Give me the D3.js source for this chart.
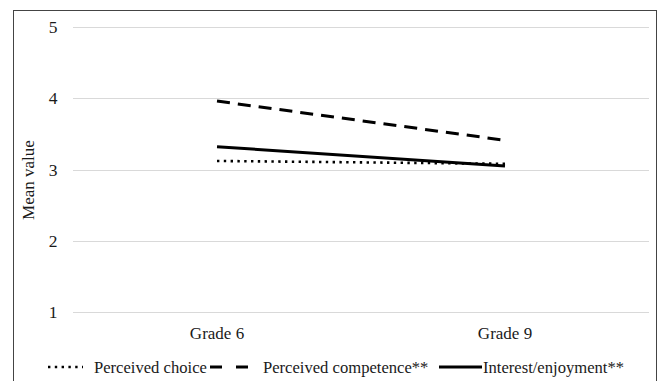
<!DOCTYPE html>
<html><head><meta charset="utf-8">
<script src="https://cdn.jsdelivr.net/npm/d3@7"></script>
<style>body{margin:0;background:#fff}svg{display:block}</style>
</head><body><svg id="c" width="659" height="381"></svg>
<script>
const grades = ["Grade 6", "Grade 9"];
const seriesNames = ["Perceived choice", "Perceived competence**", "Interest/enjoyment**"];
const perceivedChoice = [3.12, 3.08];
const perceivedCompetence = [3.96, 3.41];
const interestEnjoyment = [3.32, 3.05];
const yTicks = [1, 2, 3, 4, 5];

const FONT = "'Liberation Serif', 'Times New Roman', Times, 'DejaVu Serif', serif";
const styles = [
  {dash: "2.4,4.4", width: 2.6},
  {dash: "13,8", width: 3},
  {dash: null, width: 3}
];
const data = [perceivedChoice, perceivedCompetence, interestEnjoyment];

const svg = d3.select("#c").attr("font-family", FONT).style("font-family", FONT);
svg.append("rect").attr("x", 13.5).attr("y", 10.5).attr("width", 643).attr("height", 400)
  .attr("fill", "none").attr("stroke", "#444").attr("stroke-width", 1);

const x = d3.scalePoint().domain(grades).range([73, 649]).padding(0.5);
const y = d3.scaleLinear().domain([1, 5]).range([312, 27]);

const g = svg.append("g");
g.selectAll("line.grid").data(yTicks).enter().append("line")
  .attr("x1", 73).attr("x2", 649)
  .attr("y1", d => Math.round(y(d)) + 0.5).attr("y2", d => Math.round(y(d)) + 0.5)
  .attr("stroke", "#d9d9d9").attr("stroke-width", 1.2);

g.selectAll("text.tick").data(yTicks).enter().append("text")
  .attr("x", 53).attr("y", d => y(d) + 6).attr("text-anchor", "middle")
  .attr("font-size", 17.5).attr("fill", "#1a1a1a").text(d => d);

svg.append("text").attr("transform", "translate(34,180) rotate(-90)")
  .attr("text-anchor", "middle").attr("font-size", 17).attr("fill", "#1a1a1a").text("Mean value");

g.selectAll("text.cat").data(grades).enter().append("text")
  .attr("x", d => x(d)).attr("y", 339).attr("text-anchor", "middle")
  .attr("font-size", 17).attr("fill", "#1a1a1a").text(d => d);

const line = d3.line().x((d, i) => x(grades[i])).y(d => y(d));
data.forEach((vals, k) => {
  const p = g.append("path").datum(vals).attr("d", line)
    .attr("fill", "none").attr("stroke", "#000")
    .attr("stroke-width", styles[k].width);
  if (styles[k].dash) p.attr("stroke-dasharray", styles[k].dash);
});

// legend
const legendItems = [
  {x1: 48, x2: 83, tx: 94},
  {x1: 210, x2: 251, tx: 263},
  {x1: 439, x2: 482, tx: 483}
];
const legendDash = ["2.4,4.4", "12,14", null];
const ly = 367;
legendItems.forEach((it, k) => {
  const l = svg.append("line").attr("x1", it.x1).attr("x2", it.x2).attr("y1", ly).attr("y2", ly)
    .attr("stroke", "#000").attr("stroke-width", styles[k].width);
  if (legendDash[k]) l.attr("stroke-dasharray", legendDash[k]);
  svg.append("text").attr("x", it.tx).attr("y", ly + 6).attr("font-size", 16.6)
    .attr("fill", "#1a1a1a").text(seriesNames[k]);
});
</script></body></html>
